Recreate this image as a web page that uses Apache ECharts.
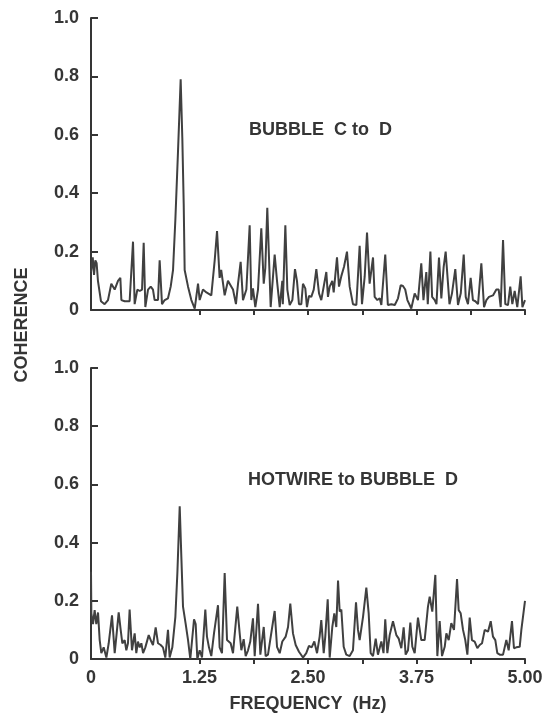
<!DOCTYPE html>
<html>
<head>
<meta charset="utf-8">
<script src="https://cdn.jsdelivr.net/npm/echarts@6/dist/echarts.min.js"></script>
<style>
html,body{margin:0;padding:0;background:#fff;}
#chart{width:552px;height:714px;}
</style>
</head>
<body>
<div id="chart"></div>
<script>
// Frequency (Hz), coherence pairs
const topTrace = [[0,0.13],[0.02,0.18],[0.035,0.12],[0.05,0.17],[0.065,0.16],[0.08,0.10],[0.115,0.03],[0.157,0.02],[0.196,0.034],[0.234,0.09],[0.273,0.07],[0.311,0.10],[0.338,0.11],[0.35,0.034],[0.388,0.03],[0.445,0.03],[0.484,0.234],[0.503,0.02],[0.534,0.07],[0.561,0.065],[0.588,0.07],[0.607,0.23],[0.626,0.01],[0.657,0.07],[0.688,0.08],[0.714,0.07],[0.733,0.034],[0.772,0.034],[0.791,0.17],[0.818,0.02],[0.849,0.034],[0.887,0.04],[0.918,0.08],[0.945,0.137],[0.972,0.31],[1.002,0.54],[1.033,0.79],[1.052,0.59],[1.068,0.365],[1.079,0.137],[1.118,0.08],[1.156,0.034],[1.195,0.005],[1.233,0.09],[1.252,0.034],[1.29,0.07],[1.33,0.06],[1.348,0.065],[1.386,0.05],[1.425,0.17],[1.452,0.27],[1.482,0.11],[1.50,0.137],[1.54,0.05],[1.578,0.10],[1.617,0.08],[1.636,0.07],[1.67,0.02],[1.694,0.09],[1.724,0.165],[1.751,0.034],[1.79,0.07],[1.828,0.29],[1.847,0.034],[1.866,0.074],[1.893,0.01],[1.924,0.07],[1.962,0.28],[1.99,0.09],[2.008,0.143],[2.031,0.35],[2.07,0.01],[2.116,0.19],[2.143,0.10],[2.174,0.01],[2.204,0.10],[2.21,0.02],[2.239,0.29],[2.262,0.07],[2.289,0.017],[2.32,0.034],[2.35,0.14],[2.373,0.10],[2.396,0.02],[2.423,0.02],[2.442,0.09],[2.469,0.074],[2.488,0.01],[2.511,0.048],[2.538,0.045],[2.566,0.07],[2.596,0.14],[2.627,0.057],[2.653,0.034],[2.673,0.03],[2.711,0.13],[2.73,0.045],[2.75,0.08],[2.78,0.10],[2.796,0.06],[2.834,0.18],[2.857,0.08],[2.884,0.116],[2.915,0.148],[2.949,0.20],[2.98,0.08],[3.018,0.02],[3.057,0.017],[3.095,0.22],[3.122,0.02],[3.153,0.114],[3.18,0.265],[3.21,0.09],[3.249,0.18],[3.268,0.045],[3.299,0.034],[3.326,0.04],[3.345,0.017],[3.39,0.19],[3.42,0.017],[3.46,0.02],[3.5,0.017],[3.537,0.04],[3.568,0.085],[3.594,0.082],[3.62,0.07],[3.645,0.034],[3.69,0.005],[3.729,0.057],[3.767,0.034],[3.805,0.16],[3.83,0.034],[3.863,0.13],[3.88,0.02],[3.91,0.20],[3.93,0.045],[3.96,0.034],[3.98,0.02],[4.009,0.18],[4.036,0.04],[4.063,0.148],[4.086,0.20],[4.113,0.09],[4.13,0.02],[4.159,0.057],[4.197,0.14],[4.228,0.017],[4.26,0.057],[4.294,0.19],[4.317,0.045],[4.343,0.02],[4.374,0.11],[4.40,0.034],[4.428,0.03],[4.459,0.02],[4.497,0.16],[4.528,0.01],[4.555,0.034],[4.585,0.045],[4.631,0.05],[4.67,0.07],[4.697,0.07],[4.72,0.01],[4.747,0.24],[4.773,0.02],[4.804,0.017],[4.83,0.08],[4.854,0.02],[4.881,0.065],[4.911,0.01],[4.95,0.115],[4.97,0.01],[5.0,0.034]];

const bottomTrace = [[0,0.30],[0.004,0.157],[0.023,0.12],[0.042,0.168],[0.061,0.12],[0.081,0.16],[0.10,0.065],[0.119,0.02],[0.146,0.04],[0.177,0.005],[0.204,0.054],[0.242,0.15],[0.273,0.02],[0.292,0.077],[0.319,0.16],[0.342,0.10],[0.361,0.054],[0.388,0.065],[0.407,0.03],[0.426,0.054],[0.445,0.17],[0.472,0.03],[0.503,0.088],[0.522,0.02],[0.541,0.06],[0.561,0.04],[0.58,0.054],[0.60,0.02],[0.626,0.04],[0.665,0.082],[0.695,0.06],[0.714,0.048],[0.745,0.109],[0.772,0.054],[0.803,0.048],[0.829,0.04],[0.856,0.005],[0.887,0.10],[0.906,0.005],[0.937,0.04],[0.972,0.145],[0.995,0.295],[1.022,0.525],[1.041,0.35],[1.06,0.18],[1.091,0.12],[1.118,0.065],[1.144,0.0],[1.187,0.136],[1.206,0.12],[1.225,0.0],[1.252,0.03],[1.279,0.005],[1.317,0.17],[1.336,0.077],[1.359,0.04],[1.386,0.01],[1.417,0.088],[1.463,0.185],[1.482,0.04],[1.509,0.02],[1.54,0.295],[1.567,0.065],[1.586,0.06],[1.609,0.054],[1.636,0.02],[1.685,0.18],[1.713,0.088],[1.732,0.03],[1.759,0.068],[1.782,0.01],[1.809,0.03],[1.835,0.06],[1.866,0.14],[1.886,0.01],[1.924,0.19],[1.951,0.015],[1.99,0.11],[2.012,0.01],[2.039,0.015],[2.058,0.01],[2.116,0.165],[2.143,0.042],[2.174,0.02],[2.204,0.06],[2.243,0.077],[2.27,0.11],[2.296,0.19],[2.327,0.088],[2.358,0.048],[2.396,0.025],[2.442,0.005],[2.48,0.02],[2.511,0.045],[2.542,0.04],[2.573,0.06],[2.604,0.02],[2.634,0.077],[2.653,0.134],[2.681,0.02],[2.699,0.077],[2.727,0.205],[2.75,0.005],[2.78,0.11],[2.803,0.157],[2.826,0.11],[2.846,0.27],[2.865,0.163],[2.884,0.17],[2.911,0.042],[2.941,0.015],[2.98,0.01],[3.018,0.03],[3.053,0.195],[3.076,0.10],[3.095,0.065],[3.134,0.145],[3.172,0.245],[3.199,0.157],[3.222,0.02],[3.249,0.01],[3.28,0.07],[3.306,0.015],[3.345,0.06],[3.37,0.02],[3.39,0.136],[3.414,0.02],[3.441,0.082],[3.479,0.13],[3.518,0.082],[3.545,0.07],[3.575,0.037],[3.602,0.109],[3.625,0.015],[3.652,0.03],[3.679,0.125],[3.702,0.042],[3.729,0.02],[3.767,0.142],[3.805,0.065],[3.844,0.065],[3.882,0.18],[3.902,0.214],[3.932,0.163],[3.967,0.289],[3.99,0.01],[4.017,0.13],[4.044,0.01],[4.075,0.042],[4.094,0.088],[4.121,0.065],[4.151,0.123],[4.182,0.10],[4.217,0.275],[4.236,0.168],[4.259,0.157],[4.286,0.10],[4.312,0.065],[4.336,0.015],[4.363,0.142],[4.389,0.065],[4.42,0.06],[4.451,0.037],[4.478,0.048],[4.505,0.054],[4.536,0.10],[4.574,0.094],[4.605,0.13],[4.631,0.077],[4.658,0.065],[4.681,0.02],[4.709,0.015],[4.747,0.015],[4.785,0.065],[4.812,0.03],[4.85,0.13],[4.873,0.037],[4.90,0.04],[4.939,0.042],[4.958,0.10],[4.981,0.104],[5.0,0.20]];

const xTickValues = [1.25, 1.875, 2.5, 3.125, 3.75, 4.375, 5];
const xLabelValues = [0, 1.25, 2.5, 3.75, 5];
const panelTitles = ['BUBBLE  C to  D', 'HOTWIRE to BUBBLE  D'];
const xAxisTitle = 'FREQUENCY  (Hz)';
const yAxisTitle = 'COHERENCE';

const INK = '#353535';
const FONT = '"Liberation Sans", Arial, sans-serif';

function xAxisCfg(idx, showLabels) {
  return {
    type: 'value', gridIndex: idx, min: 0, max: 5,
    axisLine: { show: true, lineStyle: { color: INK, width: 2 } },
    axisTick: { show: true, inside: false, length: 5, customValues: xTickValues, lineStyle: { color: INK, width: 2 } },
    axisLabel: {
      show: showLabels, customValues: xLabelValues, margin: 10,
      color: INK, fontSize: 18, fontWeight: 'bold', fontFamily: FONT,
      formatter: v => v === 0 ? '0' : v.toFixed(2)
    },
    splitLine: { show: false }
  };
}
function yAxisCfg(idx) {
  return {
    type: 'value', gridIndex: idx, min: 0, max: 1, interval: 0.2,
    axisLine: { show: true, lineStyle: { color: INK, width: 2 } },
    axisTick: { show: true, inside: true, length: 7, lineStyle: { color: INK, width: 2 } },
    axisLabel: {
      margin: 12, color: INK, fontSize: 18, fontWeight: 'bold', fontFamily: FONT,
      formatter: v => v === 0 ? '0' : v.toFixed(1)
    },
    splitLine: { show: false }
  };
}

const chart = echarts.init(document.getElementById('chart'), null, { renderer: 'canvas' });
chart.setOption({
  animation: false,
  backgroundColor: '#ffffff',
  grid: [
    { left: 91, right: 27, top: 18, height: 292 },
    { left: 91, right: 27, top: 368, height: 291 }
  ],
  xAxis: [xAxisCfg(0, false), xAxisCfg(1, true)],
  yAxis: [yAxisCfg(0), yAxisCfg(1)],
  series: [
    { type: 'line', xAxisIndex: 0, yAxisIndex: 0, data: topTrace, showSymbol: false,
      lineStyle: { color: '#404040', width: 2 } },
    { type: 'line', xAxisIndex: 1, yAxisIndex: 1, data: bottomTrace, showSymbol: false,
      lineStyle: { color: '#404040', width: 2 } }
  ],
  graphic: [
    { type: 'text', x: 249, y: 130, style: { text: panelTitles[0], fill: INK, font: 'bold 18px ' + FONT, verticalAlign: 'middle' } },
    { type: 'text', x: 248, y: 480, style: { text: panelTitles[1], fill: INK, font: 'bold 18px ' + FONT, verticalAlign: 'middle' } },
    { type: 'text', x: 308, y: 704, style: { text: xAxisTitle, fill: INK, font: 'bold 18px ' + FONT, align: 'center', verticalAlign: 'middle' } },
    { type: 'text', x: 22, y: 325, rotation: Math.PI / 2, style: { text: yAxisTitle, fill: INK, font: 'bold 18px ' + FONT, align: 'center', verticalAlign: 'middle' } }
  ]
});
</script>
</body>
</html>
